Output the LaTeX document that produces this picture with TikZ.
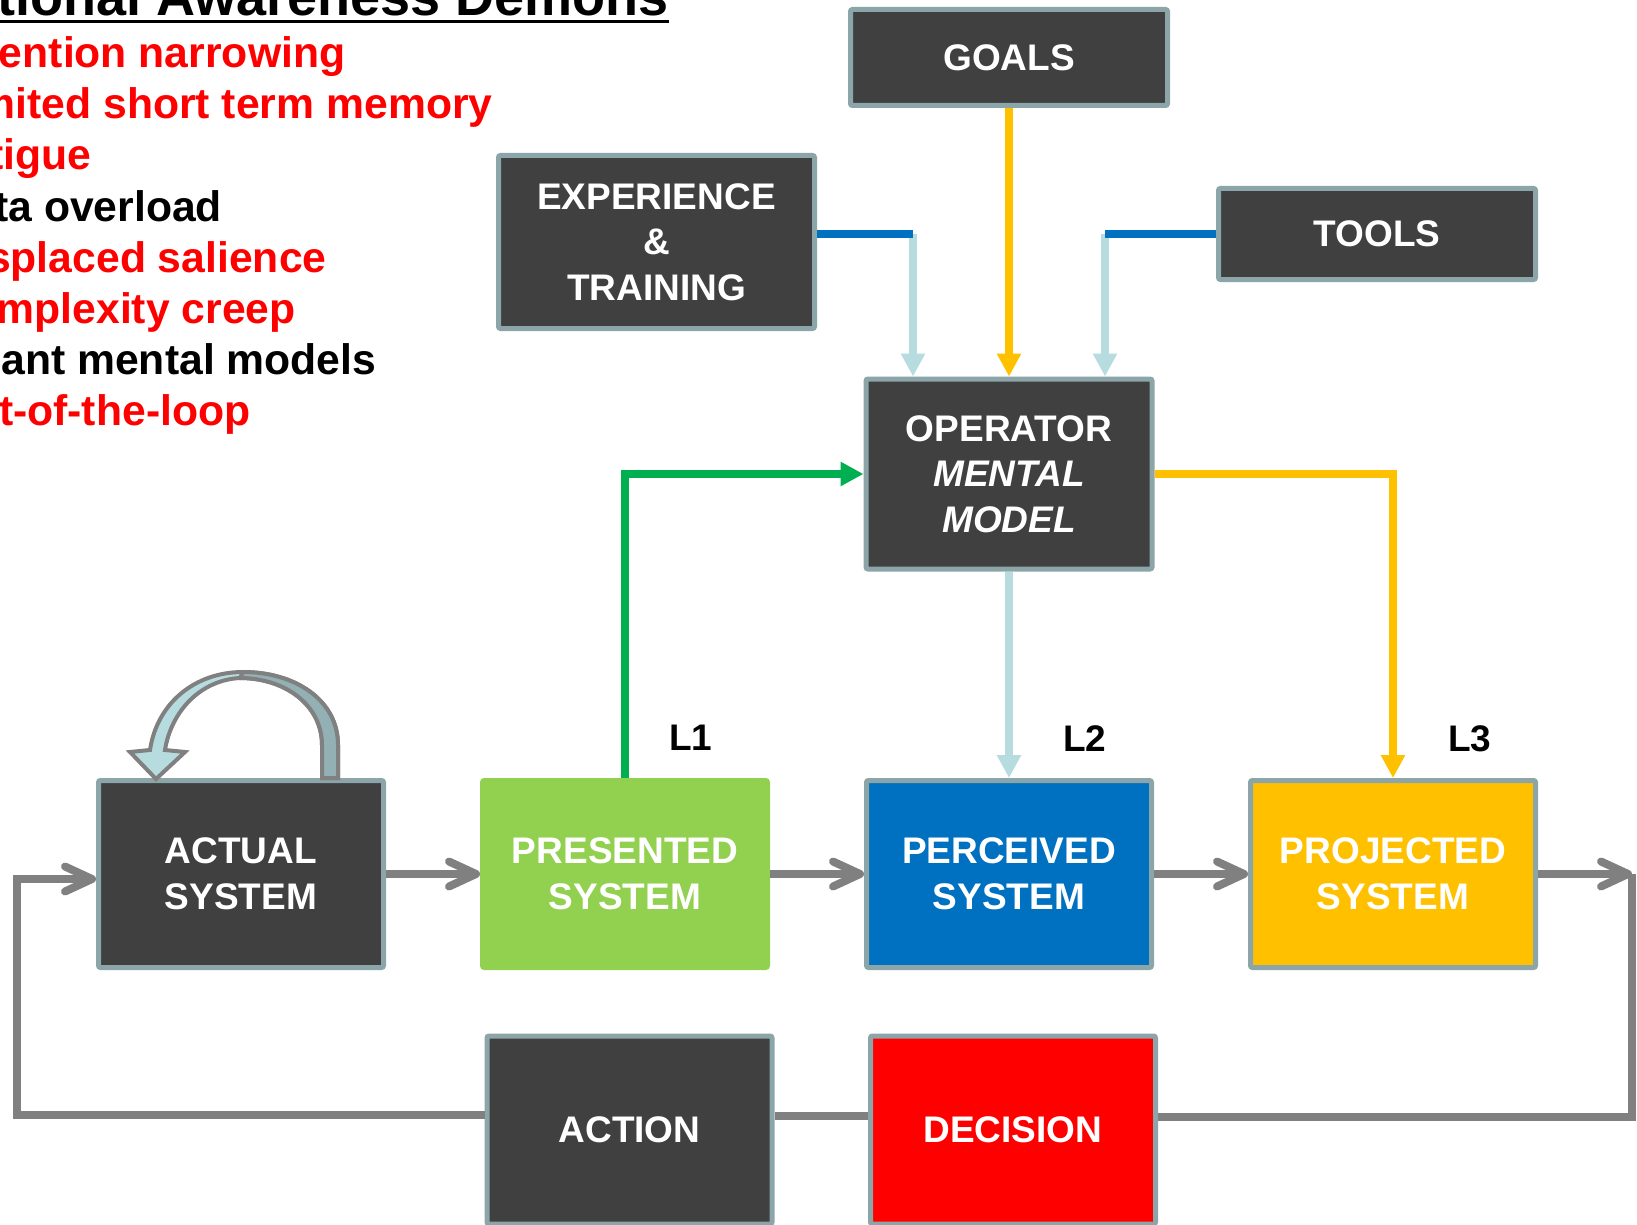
\documentclass[tikz,border=0pt]{standalone}
\usepackage{fontspec}
\setmainfont{Liberation Sans}
\usetikzlibrary{arrows.meta,positioning}

\definecolor{boxgray}{HTML}{404040}
\definecolor{rimgray}{HTML}{8CA5A8}
\definecolor{flowgray}{HTML}{808080}
\definecolor{presgreen}{HTML}{92D050}
\definecolor{linkgreen}{HTML}{00B050}
\definecolor{percblue}{HTML}{0070C0}
\definecolor{projgold}{HTML}{FFC000}
\definecolor{paleblue}{HTML}{B6DCDF}
\definecolor{loopteal}{HTML}{93B1B4}
\definecolor{decred}{HTML}{FF0000}

\begin{document}
\begin{tikzpicture}[
		x=1pt, y=-1pt,
		block/.style={
			draw=rimgray, line width=5pt, fill=boxgray, text=white,
			rounded corners=2pt, inner sep=0pt, align=center,
			minimum width=285pt, minimum height=187pt,
			font=\bfseries\fontsize{37}{45.5}\selectfont,
		},
		lvltag/.style={
			anchor=base west, inner sep=0pt,
			font=\bfseries\fontsize{37}{45.5}\selectfont,
		},
		demon/.style={
			anchor=base west, inner sep=0pt,
			font=\bfseries\fontsize{42.7}{50}\selectfont,
		},
		flow/.style={
			draw=flowgray, line width=8pt,
			-{Straight Barb[length=27pt,width=25pt,round]},
		},
		loopline/.style={draw=flowgray, line width=8pt},
		pointer/.style={line width=8pt, -{Triangle[length=23pt,width=23pt]}},
		feed/.style={draw=percblue, line width=8pt},
		loopshape/.style={draw=flowgray, line width=4pt},
	]
		\useasboundingbox (0,0) rectangle (1637,1225);
		\fill[white] (0,0) rectangle (1637,1225);
		\clip (0,0) rectangle (1637,1225);

		% title and the list of demons
		\node[demon, anchor=base east, font=\bfseries\fontsize{54}{60}\selectfont] (title) at (669,16) {Situational Awareness Demons};
		\draw[line width=3pt] ([yshift=-5.5pt]title.base west) -- ([yshift=-5.5pt]title.base east);
		\foreach \demon/\shade [count=\i] in {Attention narrowing/red, Limited short term memory/red, Fatigue/red, Data overload/black, Misplaced salience/red, Complexity creep/red, Errant mental models/black, Out-of-the-loop/red}
			\node[demon, text=\shade] (demon\i) at (-60.5,17+51*\i) {\demon};

		% inputs to the mental model
		\node[block, minimum width=317pt, minimum height=96pt] (goals) at (1009,57.5) {GOALS};
		\node[block, minimum width=316pt, minimum height=173pt] (exp) at (656.5,242) {EXPERIENCE\\\&\\TRAINING};
		\node[block, minimum width=317pt, minimum height=91pt] (tools) at (1377,234) {TOOLS};
		\node[block, minimum width=286pt, minimum height=190pt] (oper) at (1009,474) {OPERATOR\\\textit{MENTAL}\\\textit{MODEL}};

		% system row
		\node[block] (act) at (241,874) {ACTUAL\\SYSTEM};
		\node[block, draw=presgreen, fill=presgreen, right=94pt of act] (pres) {PRESENTED\\SYSTEM};
		\node[block, fill=percblue, right=94pt of pres] (perc) {PERCEIVED\\SYSTEM};
		\node[block, fill=projgold, right=94pt of perc] (proj) {PROJECTED\\SYSTEM};

		% bottom row
		\node[block, minimum height=188pt] (action) at (629.5,1130) {ACTION};
		\node[block, fill=decred, minimum height=188pt] (dec) at (1013,1130) {DECISION};

		\node[lvltag] (lone) at (669,750) {L1};
		\node[lvltag] (ltwo) at (1063,751) {L2};
		\node[lvltag] (lthree) at (1448,751) {L3};

		% loop on the actual system
		\filldraw[loopshape, fill=paleblue] (338,778) -- (338,745) .. controls (338,700) and (295,672) .. (243,672) .. controls (195,672) and (157,703) .. (150,750) -- (130,752) -- (156,779) -- (185,752) -- (165,750) .. controls (171,712) and (200,680) .. (240,678) .. controls (285,678) and (322,705) .. (322,745) -- (322,778) -- cycle;
		\filldraw[loopshape, fill=loopteal] (338,778) -- (338,745) .. controls (338,700) and (295,672) .. (243,672) -- (240,678) .. controls (285,678) and (322,705) .. (322,745) -- (322,778) -- cycle;

		% links into and out of the mental model
		\coordinate (expbend) at (913,234);
		\coordinate (toolbend) at (1105,234);
		\draw[pointer, paleblue] (expbend) -- (expbend |- oper.north);
		\draw[pointer, paleblue] (toolbend) -- (toolbend |- oper.north);
		\draw[feed] (expbend -| exp.east) -- (expbend);
		\draw[feed] (tools.west) -- (toolbend);
		\draw[pointer, projgold] (goals) -- (oper);
		\draw[pointer, projgold] (oper.east) -| (proj.north);
		\draw[pointer, paleblue] (oper) -- (perc);
		\draw[pointer, linkgreen] (pres.north) |- (oper.west);

		% main flow and feedback loop
		\draw[flow] (act) -- (pres);
		\draw[flow] (pres) -- (perc);
		\draw[flow] (perc) -- (proj);
		\coordinate (exitR) at (1632,874);
		\coordinate (turnR) at (1632,1117);
		\coordinate (turnL) at (17,1115);
		\coordinate (entryL) at (17,879);
		\draw[flow] (proj) -- (exitR);
		\draw[loopline] (exitR) -- (turnR) -- (turnR -| dec.east);
		\draw[loopline] (dec.west |- 0,1116) -- (action.east |- 0,1116);
		\draw[flow] (action.west |- turnL) -- (turnL) -- (entryL) -- (entryL -| act.west);
	\end{tikzpicture}
\end{document}
